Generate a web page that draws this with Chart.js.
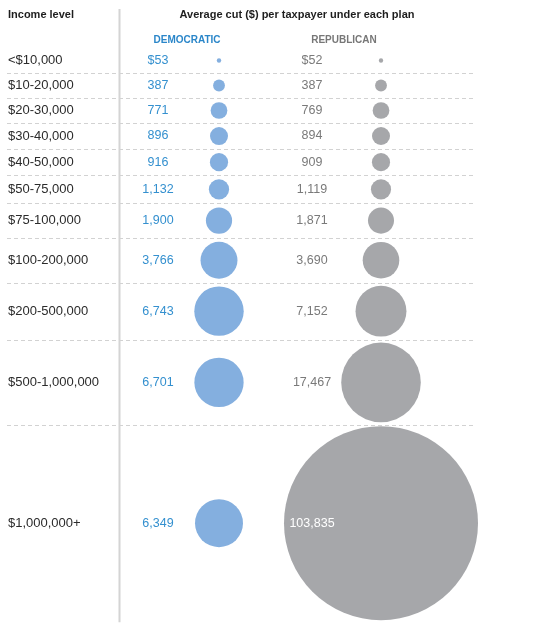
<!DOCTYPE html>
<html><head><meta charset="utf-8">
<script src="https://cdn.jsdelivr.net/npm/chart.js@4.4.1/dist/chart.umd.min.js"></script>
<style>html,body{margin:0;padding:0;background:#fff;overflow:hidden}canvas{display:block}</style>
</head><body>
<canvas id="c" width="533" height="636"></canvas>
<script>
// ---- data ----
const incomeLevels = ["<$10,000","$10-20,000","$20-30,000","$30-40,000","$40-50,000","$50-75,000","$75-100,000","$100-200,000","$200-500,000","$500-1,000,000","$1,000,000+"];
const democraticCut = [53,387,771,896,916,1132,1900,3766,6743,6701,6349];
const republicanCut = [52,387,769,894,909,1119,1871,3690,7152,17467,103835];
const seriesNames = ["DEMOCRATIC","REPUBLICAN"];
const headerTitle = "Average cut ($) per taxpayer under each plan";
const rowHeader = "Income level";

// ---- style / layout ----
const W = 533, H = 636;
const FONT = '"Liberation Sans", Arial, sans-serif';
const BLUE_FILL = '#84afdf', GRAY_FILL = '#a6a7aa';
const BLUE_TEXT = '#3490cf', GRAY_TEXT = '#7a7a7a', LABEL = '#2b2b2b';
const COL = { label: 8, demText: 158, demDot: 219, repText: 312, repDot: 381, lineEnd: 476, vline: 119.5 };
const TOP = 48, MIN_ROW = 25;
const maxVal = Math.max(...democraticCut, ...republicanCut);
const MAX_R = 97;
const radius = v => MAX_R * Math.sqrt(v / maxVal);

// row boundaries derived from bubble sizes
const rowTop = [], rowMid = [];
let yCursor = TOP;
incomeLevels.forEach((_, i) => {
  const d = 2 * Math.max(radius(democraticCut[i]), radius(republicanCut[i]));
  const pad = d > 150 ? 2 : d > 45 ? 6 : 8;
  const h = Math.max(MIN_ROW, d + pad);
  rowTop.push(yCursor);
  rowMid.push(yCursor + h / 2);
  yCursor += h;
});
const tableBottom = yCursor;

const fmt = (v, i) => (i === 0 ? '$' : '') + v.toLocaleString('en-US');

const tablePlugin = {
  id: 'table',
  beforeDatasetsDraw(chart) {
    const { ctx, scales: { x, y } } = chart;
    ctx.save();
    // dashed dividers
    ctx.strokeStyle = '#d2d2d2';
    ctx.lineWidth = 1;
    ctx.setLineDash([4, 3]);
    for (let i = 1; i < incomeLevels.length; i++) {
      const py = Math.round(y.getPixelForValue(rowTop[i])) + 0.5;
      ctx.beginPath();
      ctx.moveTo(x.getPixelForValue(COL.label - 1), py);
      ctx.lineTo(x.getPixelForValue(COL.lineEnd), py);
      ctx.stroke();
    }
    ctx.setLineDash([]);
    // vertical separator
    ctx.strokeStyle = '#d4d4d4';
    ctx.lineWidth = 2;
    ctx.beginPath();
    ctx.moveTo(x.getPixelForValue(COL.vline), y.getPixelForValue(9));
    ctx.lineTo(x.getPixelForValue(COL.vline), y.getPixelForValue(tableBottom + 1));
    ctx.stroke();
    ctx.restore();
  },
  afterDatasetsDraw(chart) {
    const { ctx, scales: { x, y } } = chart;
    ctx.save();
    ctx.textBaseline = 'middle';
    // headers
    ctx.font = 'bold 11px ' + FONT;
    ctx.fillStyle = '#1e1e1e';
    ctx.textAlign = 'left';
    ctx.fillText(rowHeader, x.getPixelForValue(COL.label), y.getPixelForValue(15));
    ctx.textAlign = 'center';
    ctx.fillText(headerTitle, x.getPixelForValue(297), y.getPixelForValue(15));
    ctx.font = 'bold 10px ' + FONT;
    ctx.fillStyle = '#2a86c9';
    ctx.fillText(seriesNames[0], x.getPixelForValue(187), y.getPixelForValue(40));
    ctx.fillStyle = '#777777';
    ctx.fillText(seriesNames[1], x.getPixelForValue(344), y.getPixelForValue(40));
    // rows
    incomeLevels.forEach((lab, i) => {
      const py = y.getPixelForValue(rowMid[i]);
      ctx.font = '13px ' + FONT;
      ctx.fillStyle = LABEL;
      ctx.textAlign = 'left';
      ctx.fillText(lab, x.getPixelForValue(COL.label), py);
      ctx.font = '12.5px ' + FONT;
      ctx.textAlign = 'center';
      ctx.fillStyle = BLUE_TEXT;
      ctx.fillText(fmt(democraticCut[i], i), x.getPixelForValue(COL.demText), py);
      const inside = COL.repDot - radius(republicanCut[i]) < COL.repText - 20;
      ctx.fillStyle = inside ? '#ffffff' : GRAY_TEXT;
      ctx.fillText(fmt(republicanCut[i], i), x.getPixelForValue(COL.repText), py);
    });
    ctx.restore();
  }
};

new Chart(document.getElementById('c'), {
  type: 'bubble',
  data: {
    datasets: [
      { label: seriesNames[0], data: democraticCut.map((v, i) => ({ x: COL.demDot, y: rowMid[i], r: radius(v) })), backgroundColor: BLUE_FILL, borderWidth: 0, clip: false },
      { label: seriesNames[1], data: republicanCut.map((v, i) => ({ x: COL.repDot, y: rowMid[i], r: radius(v) })), backgroundColor: GRAY_FILL, borderWidth: 0, clip: false }
    ]
  },
  options: {
    responsive: false,
    animation: false,
    events: [],
    layout: { padding: 0, autoPadding: false },
    plugins: { legend: { display: false }, tooltip: { enabled: false } },
    scales: {
      x: { type: 'linear', min: 0, max: W, display: false },
      y: { type: 'linear', min: 0, max: H, reverse: true, display: false }
    }
  },
  plugins: [tablePlugin]
});
</script>
</body></html>
